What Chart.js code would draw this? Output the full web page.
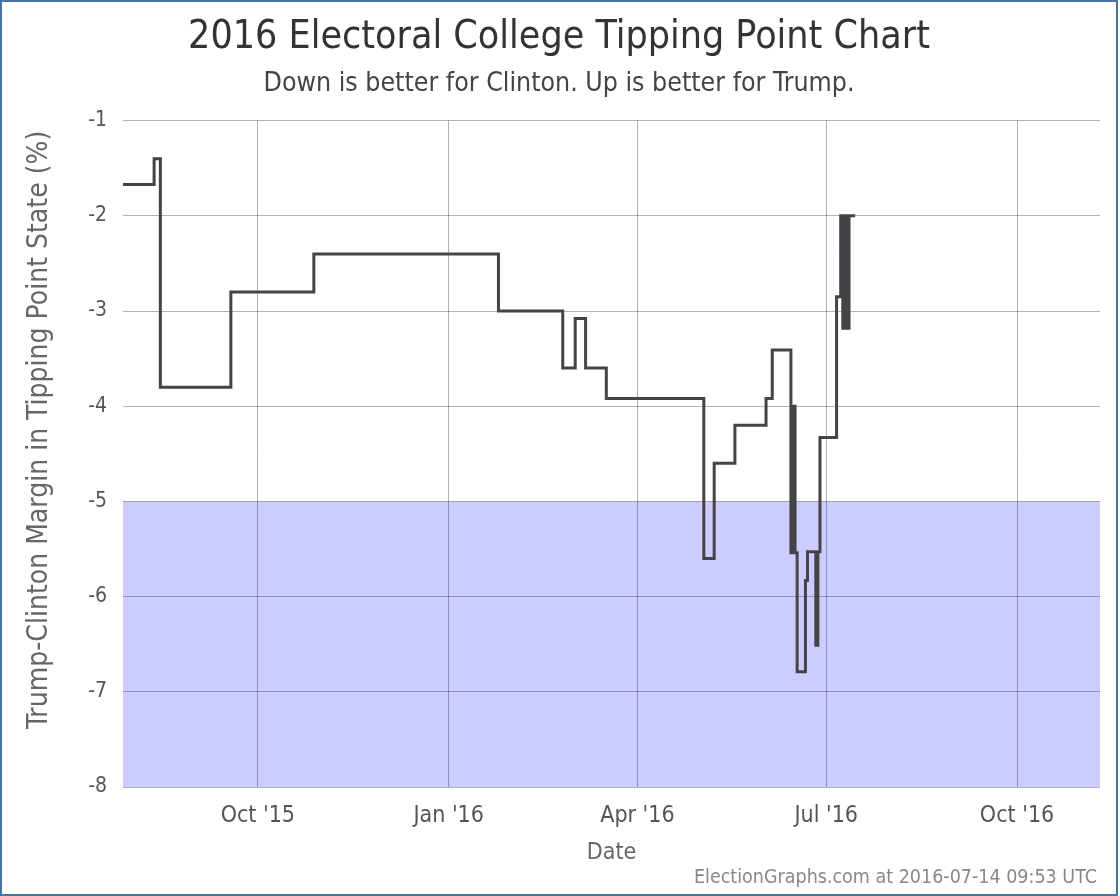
<!DOCTYPE html>
<html>
<head>
<meta charset="utf-8">
<title>2016 Electoral College Tipping Point Chart</title>
<script src="https://cdn.jsdelivr.net/npm/chart.js@4.4.1/dist/chart.umd.min.js"></script>
<style>
  html, body { margin: 0; padding: 0; background: #fff; }
  #frame { position: relative; width: 1118px; height: 896px; box-sizing: border-box; border: 2px solid #4674a4; }
  #wrap { position: absolute; left: 0; top: 0; width: 1114px; height: 892px; }
  #credit { position: absolute; right: 19px; top: 864px; line-height: 22px; font-size: 19.5px; color: #888;
            font-family: "DejaVu Sans Condensed", "Liberation Sans Narrow", "Open Sans", sans-serif; }
</style>
</head>
<body>
<div id="frame">
  <div id="wrap"><canvas id="tippingChart"></canvas></div>
  <div id="credit">ElectionGraphs.com at 2016-07-14 09:53 UTC</div>
</div>
<script>
// change dates (each value holds until the next date)
const dates = [
  "2015-07-28", "2015-08-12", "2015-08-15", "2015-09-18", "2015-10-28",
  "2016-01-25", "2016-02-25", "2016-03-02", "2016-03-07", "2016-03-17",
  "2016-05-03", "2016-05-08", "2016-05-18", "2016-06-02", "2016-06-05",
  "2016-06-14", "2016-06-15", "2016-06-16", "2016-06-17", "2016-06-21",
  "2016-06-22", "2016-06-26", "2016-06-27", "2016-06-28", "2016-07-06",
  "2016-07-08", "2016-07-09", "2016-07-10", "2016-07-11", "2016-07-12",
  "2016-07-15"
];
const margins = [
  -1.67, -1.40, -3.80, -2.80, -2.40,
  -3.00, -3.60, -3.08, -3.60, -3.92,
  -5.60, -4.60, -4.20, -3.92, -3.41,
  -5.54, -4.00, -5.54, -6.79, -5.83,
  -5.53, -6.51, -5.53, -4.33, -2.85,
  -2.00, -3.18, -2.00, -3.18, -2.00,
  -2.00
];
const tickDates = ["2015-10-01", "2016-01-01", "2016-04-01", "2016-07-01", "2016-10-01"];
const tickLabels = ["Oct '15", "Jan '16", "Apr '16", "Jul '16", "Oct '16"];
const xStart = "2015-07-28";
const xEnd = "2016-11-10";
const shadeTop = -5;
const yMin = -8;
const yMax = -1;

const FONT = '"DejaVu Sans Condensed", "Liberation Sans Narrow", "Open Sans", sans-serif';
const gridColor = "rgba(0, 0, 0, 0.3)";

document.addEventListener("DOMContentLoaded", function () {
  const minX = Date.parse(xStart);
  const maxX = Date.parse(xEnd);
  const linePoints = dates.map((d, i) => ({ x: Date.parse(d), y: margins[i] }));

  const ctx = document.getElementById("tippingChart").getContext("2d");
  new Chart(ctx, {
    type: "line",
    data: {
      datasets: [
        {
          label: "Tipping point",
          data: linePoints,
          borderColor: "#444448",
          borderWidth: 3,
          stepped: true,
          pointRadius: 0,
          fill: false,
        },
        {
          label: "Clinton zone",
          data: [{ x: minX, y: shadeTop }, { x: maxX, y: shadeTop }],
          borderWidth: 0,
          borderColor: "rgba(0,0,0,0)",
          backgroundColor: "rgba(0, 0, 255, 0.2)",
          pointRadius: 0,
          fill: "start",
        },
      ],
    },
    options: {
      responsive: true,
      maintainAspectRatio: false,
      animation: false,
      layout: { padding: { left: 16, right: 16, top: 0, bottom: 0 } },
      plugins: {
        legend: { display: false },
        tooltip: { enabled: false },
        title: {
          display: true,
          text: "2016 Electoral College Tipping Point Chart",
          color: "#333",
          font: { family: FONT, size: 39, weight: "normal", lineHeight: 1.2 },
          padding: { top: 12, bottom: 7 },
        },
        subtitle: {
          display: true,
          text: "Down is better for Clinton. Up is better for Trump.",
          color: "#444",
          font: { family: FONT, size: 26.5, weight: "normal", lineHeight: 1.2 },
          padding: { top: 0, bottom: 21 },
        },
      },
      scales: {
        x: {
          type: "linear",
          min: minX,
          max: maxX,
          afterBuildTicks: function (axis) {
            axis.ticks = tickDates.map((d) => ({ value: Date.parse(d) }));
          },
          afterFit: function (axis) {
            axis.height = 107;
          },
          grid: { color: gridColor, drawTicks: false },
          border: { display: false },
          ticks: {
            autoSkip: false,
            maxRotation: 0,
            padding: 15,
            color: "#555",
            font: { family: FONT, size: 23 },
            callback: function (value, index) {
              return tickLabels[index];
            },
          },
          title: {
            display: true,
            text: "Date",
            color: "#666",
            font: { family: FONT, size: 23 },
            padding: { top: 0, bottom: 27 },
          },
        },
        y: {
          min: yMin,
          max: yMax,
          afterFit: function (axis) {
            axis.width = 105;
          },
          grid: { color: gridColor, drawTicks: false },
          border: { display: false },
          ticks: {
            stepSize: 1,
            padding: 16,
            color: "#555",
            font: { family: FONT, size: 21 },
          },
          title: {
            display: true,
            text: "      Trump-Clinton Margin in Tipping Point State (%)",
            color: "#666",
            font: { family: FONT, size: 28 },
            padding: { top: 5, bottom: 0 },
          },
        },
      },
    },
  });
});
</script>
</body>
</html>
